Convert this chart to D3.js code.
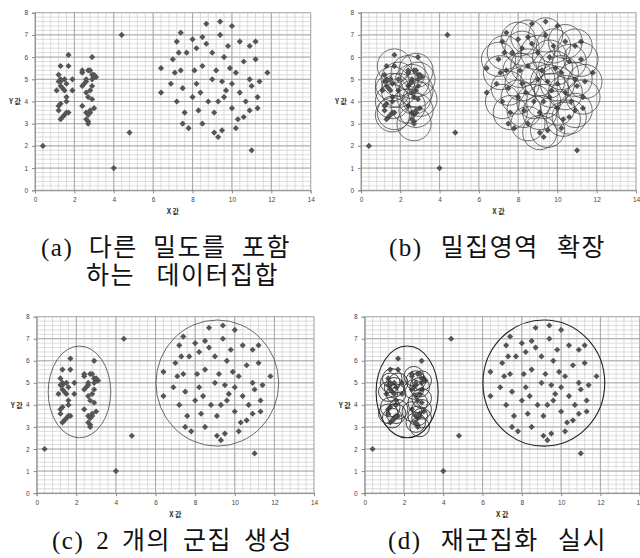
<!DOCTYPE html>
<html>
<head>
<meta charset="utf-8">
<script src="https://cdn.jsdelivr.net/npm/d3@7"></script>
<style>
  body { margin: 0; background: #fff; }
  svg { display: block; }
</style>
</head>
<body>
<svg id="chart" width="640" height="558"></svg>
<script>
// ---- data (x/y in data units) ----
const noisePts = [[0.4, 2.0], [4.0, 1.0], [4.4, 7.0], [4.8, 2.6]];

const leftPts = [
  [1.7, 6.1], [1.3, 5.6], [1.7, 5.6], [1.2, 5.2], [1.3, 5.0], [1.2, 4.9], [1.3, 4.9],
  [1.5, 5.0], [1.9, 5.0], [1.6, 4.8], [1.3, 4.7], [1.1, 4.5], [1.4, 4.6], [1.5, 4.5],
  [1.9, 4.5], [1.6, 4.2], [1.6, 4.0], [1.3, 3.9], [1.2, 3.8], [1.2, 3.6], [1.7, 3.5],
  [1.6, 3.5], [1.5, 3.4], [1.4, 3.3], [1.3, 3.2],
  [2.9, 6.0], [2.4, 5.4], [2.4, 5.3], [2.7, 5.4], [2.8, 5.4], [2.9, 5.2], [3.0, 5.1],
  [3.1, 5.1], [2.9, 5.0], [3.0, 5.2], [2.6, 5.0], [2.5, 4.8], [2.6, 4.9], [2.4, 4.7],
  [2.9, 4.7], [2.8, 4.5], [2.6, 4.4], [2.7, 4.2], [2.9, 4.1], [2.4, 3.8], [3.0, 3.7],
  [2.6, 3.5], [2.8, 3.5], [2.8, 3.6], [2.7, 3.4], [2.6, 3.2], [2.7, 3.1], [2.7, 3.0]
];

const bigPts = [
  [6.4, 5.5], [6.4, 4.4], [6.9, 4.8], [7.0, 5.9], [7.1, 5.3], [7.2, 6.7], [7.3, 6.2],
  [7.2, 4.0], [7.4, 5.4], [7.4, 7.1], [7.5, 4.6], [7.5, 3.0], [7.6, 3.5], [7.7, 6.2],
  [7.8, 2.8], [8.0, 6.8], [8.0, 4.2], [8.1, 5.4], [8.2, 6.4], [8.2, 4.8], [8.3, 3.6],
  [8.4, 4.4], [8.5, 6.9], [8.5, 5.6], [8.5, 3.0], [8.7, 7.5], [8.7, 6.6], [8.8, 4.0],
  [9.0, 6.2], [9.0, 5.0], [9.1, 3.5], [9.1, 2.6], [9.2, 5.4], [9.3, 4.0], [9.3, 2.4],
  [9.4, 7.6], [9.4, 7.0], [9.5, 4.9], [9.5, 2.7], [9.6, 6.0], [9.6, 4.2], [9.7, 4.5],
  [9.8, 6.5], [9.9, 5.5], [10.0, 7.4], [10.0, 4.8], [10.0, 3.7], [10.2, 5.3], [10.2, 2.8],
  [10.3, 3.2], [10.4, 6.7], [10.4, 4.4], [10.6, 5.8], [10.6, 3.3], [10.7, 4.0], [10.9, 6.5],
  [10.9, 5.0], [10.9, 3.6], [11.0, 4.7], [11.0, 1.8], [11.2, 6.7], [11.2, 5.9], [11.3, 4.2],
  [11.3, 3.7], [11.4, 4.9], [11.8, 5.3]
];

// (b) eps-neighbourhood circles, centres in data units
const bCoresLeft = [
  [1.7, 5.6], [1.6, 4.8], [1.9, 5.0], [1.6, 4.5], [1.9, 4.5], [1.6, 4.0], [1.7, 3.5],
  [1.6, 3.4], [2.4, 5.3], [2.8, 5.4], [2.9, 5.0], [2.6, 4.9], [2.8, 4.5], [2.7, 4.2],
  [2.4, 3.8], [2.8, 3.6], [2.7, 3.0], [3.0, 4.1]
];
const bCoresBig = [
  [7.0, 5.9], [7.1, 5.3], [7.2, 4.0], [7.3, 6.2], [7.5, 4.6], [7.6, 3.5], [8.0, 6.8],
  [8.0, 4.2], [8.1, 5.4], [8.2, 6.4], [8.2, 4.8], [8.3, 3.6], [8.5, 6.9], [8.5, 5.6],
  [8.5, 3.0], [8.8, 4.0], [9.0, 6.2], [9.0, 5.0], [9.1, 3.5], [9.1, 2.6], [9.3, 4.0],
  [9.4, 7.0], [9.5, 4.9], [9.5, 2.7], [9.6, 6.0], [9.7, 4.5], [9.8, 6.5], [9.9, 5.5],
  [10.0, 4.8], [10.0, 3.7], [10.2, 5.3], [10.3, 3.2], [10.4, 6.7], [10.4, 4.4], [10.6, 5.8],
  [10.6, 3.3], [10.9, 5.0], [10.9, 3.6], [10.9, 6.5], [11.2, 5.9], [11.3, 4.2], [11.4, 4.9]
];
const bEps = 0.87;

// (d) re-clustering with a smaller eps
const dCores = [
  [1.3, 5.0], [1.5, 4.8], [1.7, 5.0], [1.2, 4.6], [1.6, 4.5], [1.3, 3.9], [1.6, 3.6],
  [1.4, 3.4], [1.7, 3.8], [1.2, 3.6], [1.4, 5.2], [2.6, 5.1], [2.9, 5.1], [2.8, 4.8],
  [2.5, 4.7], [2.9, 4.3], [2.7, 4.1], [2.7, 3.5], [2.9, 3.4], [2.6, 3.2], [2.8, 3.0],
  [2.5, 5.3], [2.4, 3.7], [2.9, 3.8]
];
const dEps = 0.5;

// (c)/(d) cluster outlines: [cx, cy, rx, ry]
const clusterShapes = [[2.16, 4.59, 1.58, 2.08], [9.12, 4.99, 3.1, 2.86]];

const xTicks = [0, 2, 4, 6, 8, 10, 12, 14];
const yTicks = [0, 1, 2, 3, 4, 5, 6, 7, 8];

const captions = {
  a: ['(a) 다른 밀도를 포함', '하는 데이터집합'],
  b: ['(b) 밀집영역 확장'],
  c: ['(c) 2 개의 군집 생성'],
  d: ['(d) 재군집화 실시']
};

// ---- layout ----
const panels = [
  { key: 'a', left: 35,    top: 12.7,  w: 275.7, h: 177.6 },
  { key: 'b', left: 361,   top: 12.7,  w: 275,   h: 177.6 },
  { key: 'c', left: 36.7,  top: 316.7, w: 277.3, h: 176.4 },
  { key: 'd', left: 364.7, top: 316.7, w: 275,   h: 176.4 }
];

const svg = d3.select('#chart');
const allPts = leftPts.concat(bigPts, noisePts);
const diamond = d3.symbol().type(d3.symbolSquare).size(19);

function drawPanel(p) {
  const g = svg.append('g').attr('transform', `translate(${p.left},${p.top})`);
  const x = d3.scaleLinear().domain([0, 14]).range([0, p.w]);
  const y = d3.scaleLinear().domain([0, 8]).range([p.h, 0]);

  // minor grid
  g.append('g').selectAll('line').data(d3.range(0, 14.001, 0.4)).join('line')
    .attr('x1', d => x(d)).attr('x2', d => x(d)).attr('y1', 0).attr('y2', p.h)
    .attr('stroke', '#cfcfcf').attr('stroke-width', 0.7);
  g.append('g').selectAll('line').data(d3.range(0, 8.001, 0.2)).join('line')
    .attr('y1', d => y(d)).attr('y2', d => y(d)).attr('x1', 0).attr('x2', p.w)
    .attr('stroke', '#cfcfcf').attr('stroke-width', 0.7);
  // major grid
  g.append('g').selectAll('line').data(xTicks).join('line')
    .attr('x1', d => x(d)).attr('x2', d => x(d)).attr('y1', 0).attr('y2', p.h)
    .attr('stroke', '#9a9a9a').attr('stroke-width', 0.8);
  g.append('g').selectAll('line').data(yTicks).join('line')
    .attr('y1', d => y(d)).attr('y2', d => y(d)).attr('x1', 0).attr('x2', p.w)
    .attr('stroke', '#9a9a9a').attr('stroke-width', 0.8);

  // axes
  const xa = g.append('g').attr('transform', `translate(0,${p.h})`)
    .call(d3.axisBottom(x).tickValues(xTicks).tickSize(3).tickPadding(4));
  const ya = g.append('g').call(d3.axisLeft(y).tickValues(yTicks).tickSize(3).tickPadding(4));
  [xa, ya].forEach(a => {
    a.select('.domain').attr('stroke', '#888').attr('stroke-width', 0.8);
    a.selectAll('.tick line').attr('stroke', '#888');
    a.selectAll('text').attr('font-family', 'Liberation Sans, Arial, sans-serif')
      .attr('font-size', 6.5).attr('fill', '#444');
  });

  g.append('text').attr('x', p.w / 2).attr('y', p.h + 24).attr('text-anchor', 'middle')
    .attr('font-family', 'Noto Sans CJK KR, sans-serif').attr('font-size', 7).attr('font-weight', 700)
    .attr('fill', '#333').text('X 값');
  g.append('text').attr('x', -20).attr('y', p.h / 2 + 3).attr('text-anchor', 'middle')
    .attr('font-family', 'Noto Sans CJK KR, sans-serif').attr('font-size', 7).attr('font-weight', 700)
    .attr('fill', '#333').text('Y 값');

  // points
  g.append('g').selectAll('path').data(allPts).join('path')
    .attr('transform', d => `translate(${x(d[0])},${y(d[1])}) rotate(45)`)
    .attr('d', diamond).attr('fill', '#555');

  const rpx = e => x(e) - x(0);

  if (p.key === 'b') {
    g.append('g').selectAll('circle').data(bCoresLeft.concat(bCoresBig)).join('circle')
      .attr('cx', d => x(d[0])).attr('cy', d => y(d[1])).attr('r', rpx(bEps))
      .attr('fill', 'none').attr('stroke', '#3a3a3a').attr('stroke-width', 0.7);
  }
  if (p.key === 'c' || p.key === 'd') {
    g.append('g').selectAll('ellipse').data(clusterShapes).join('ellipse')
      .attr('cx', d => x(d[0])).attr('cy', d => y(d[1]))
      .attr('rx', d => rpx(d[2])).attr('ry', d => y(0) - y(d[3]))
      .attr('fill', 'none').attr('stroke', p.key === 'd' ? '#222' : '#444')
      .attr('stroke-width', p.key === 'd' ? 1.1 : 0.8);
  }
  if (p.key === 'd') {
    g.append('g').selectAll('circle').data(dCores).join('circle')
      .attr('cx', d => x(d[0])).attr('cy', d => y(d[1])).attr('r', rpx(dEps))
      .attr('fill', 'none').attr('stroke', '#333').attr('stroke-width', 0.9);
  }
}

panels.forEach(drawPanel);

// captions: words spread between a left edge and a right edge
const capPos = {
  a: [{ x0: 41, x1: 291, y: 256 }, { x0: 86, x1: 279, y: 284 }],
  b: [{ x0: 389, x1: 606, y: 256 }],
  c: [{ x0: 52, x1: 293, y: 549 }],
  d: [{ x0: 388, x1: 607, y: 549 }]
};
Object.keys(captions).forEach(k => {
  captions[k].forEach((line, i) => {
    const pos = capPos[k][i];
    const words = line.split(' ');
    const t = svg.append('text').attr('y', pos.y)
      .attr('font-family', 'Liberation Serif, Noto Sans CJK KR, serif')
      .attr('font-size', 25).attr('letter-spacing', 1.5).attr('fill', '#111');
    const spans = words.map(w => t.append('tspan').text(w));
    const widths = spans.map(s => s.node().getComputedTextLength());
    const gap = words.length > 1 ? (pos.x1 - pos.x0 - d3.sum(widths)) / (words.length - 1) : 0;
    let cx = pos.x0;
    spans.forEach((s, j) => { s.attr('x', cx); cx += widths[j] + gap; });
  });
});
</script>
</body>
</html>
